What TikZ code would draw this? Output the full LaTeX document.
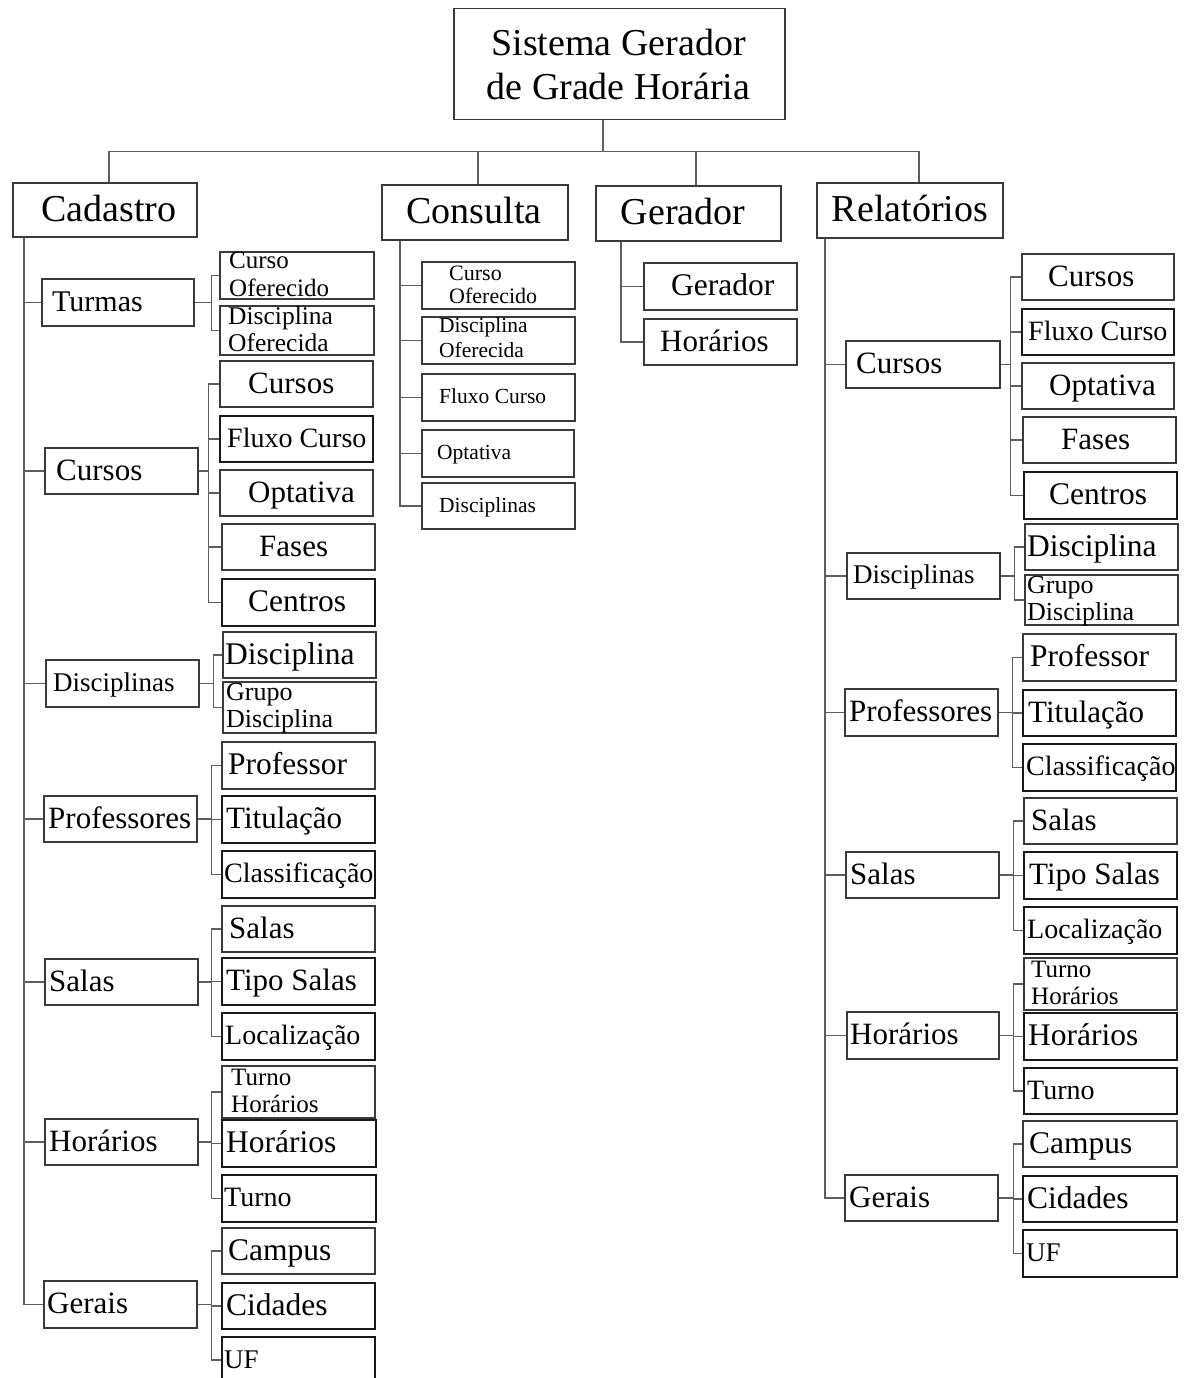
\documentclass[tikz,border=0pt]{standalone}
\usepackage{fontspec}
\setmainfont{Liberation Serif}
\definecolor{boxc}{HTML}{3A3A3A}
\definecolor{linec}{HTML}{5E5E5E}
\newcommand\twoL[2]{\begin{tabular}[t]{@{}l@{}}#1\\#2\end{tabular}}
\newcommand\twoC[2]{\begin{tabular}[t]{@{}c@{}}#1\\#2\end{tabular}}
% box: name, x, y, width, height, extra box style, text x-offset, text style, text
\newcommand\bx[9]{%
  \node[bx,#6,minimum width=#4pt,minimum height=#5pt] (#1) at (#2,#3) {};
  \node[#8] (#1-t) at ([xshift=#7pt]#1.west) {#9};}
% vertical spine below a parent, with a branch to every child
\newcommand\spine[3]{%
  \coordinate (#1-s) at ([xshift=#2pt]#1.south west);
  \foreach \c in {#3}{\draw[lk] (#1-s) |- (\c.west);}}
% bus on the right of a parent, with a branch to every child
\newcommand\grp[3]{%
  \coordinate (#1-b) at ([xshift=#2pt]#1.east);
  \draw[lk] (#1.east) -- (#1-b);
  \foreach \c in {#3}{\draw[lk] (#1-b) |- (\c.west);}}
\begin{document}
\begin{tikzpicture}[x=1pt,y=-1pt,
  bx/.style={draw=boxc, line width=1.5pt, inner sep=0pt, anchor=north west},
  dk/.style={draw=black!90, line width=1.9pt},
  lk/.style={draw=linec, line width=1.5pt},
  tx/.style={inner sep=0pt, anchor=base west, text=black,
             font=\fontsize{#1}{#1}\selectfont, yshift=-0.3*#1pt},
  tc/.style={tx=#1, anchor=base},
  tm/.style n args={3}{inner sep=0pt, anchor=base west, text=black,
             font=\fontsize{#1}{#2}\selectfont, yshift=#3pt}]
\fill[white] (0,0) rectangle (1183,1378);
\useasboundingbox (0,0) rectangle (1183,1378);

% root and first level
\bx{root}{453}{8}{331}{111}{}{165.5}{font=\fontsize{38}{44}\selectfont, inner sep=0pt, anchor=base, yshift=8.5pt}{\twoC{Sistema Gerador}{de Grade Horária}}
\bx{cad}{12}{182}{184}{54}{}{97}{tc=38}{Cadastro}
\bx{con}{381}{184}{186}{55}{}{93}{tc=38}{Consulta}
\bx{ger}{595}{185}{185}{55}{}{88}{tc=38}{Gerador}
\bx{rel}{816}{182}{186}{55}{}{94}{tc=38}{Relatórios}

% Cadastro
\bx{c-tur}{41}{278}{152}{47}{}{11}{tx=30}{Turmas}
\bx{c-cur}{44}{447}{153}{46}{}{12}{tx=31}{Cursos}
\bx{c-dis}{45}{659}{153}{47}{}{8}{tx=27}{Disciplinas}
\bx{c-pro}{43}{795}{153}{46}{}{5}{tx=31}{Professores}
\bx{c-sal}{44}{958}{153}{46}{}{5}{tx=31}{Salas}
\bx{c-hor}{44}{1118}{153}{46}{}{5}{tx=31}{Horários}
\bx{c-ger}{43}{1280}{153}{47}{}{4}{tx=31}{Gerais}

\bx{c-tur-1}{219}{251}{154}{47}{}{10}{tm={25}{28}{6.5}}{\twoL{Curso}{Oferecido}}
\bx{c-tur-2}{219}{305}{154}{49}{}{9}{tm={25.5}{27}{5.5}}{\twoL{Disciplina}{Oferecida}}

\bx{c-cur-1}{219}{360}{153}{46}{}{29}{tx=31}{Cursos}
\bx{c-cur-2}{219}{415}{153}{46}{dk}{8}{tx=28}{Fluxo Curso}
\bx{c-cur-3}{219}{469}{153}{46}{}{29}{tx=31}{Optativa}
\bx{c-cur-4}{221}{523}{153}{46}{}{38}{tx=31}{Fases}
\bx{c-cur-5}{221}{578}{153}{47}{dk}{27}{tx=31.5}{Centros}

\bx{c-dis-1}{222}{631}{153}{46}{}{3}{tx=31.5}{Disciplina}
\bx{c-dis-2}{222}{681}{153}{51}{}{4}{tm={26}{27}{6.5}}{\twoL{Grupo}{Disciplina}}

\bx{c-pro-1}{221}{741}{153}{47}{}{7}{tx=31.5}{Professor}
\bx{c-pro-2}{221}{795}{153}{47}{dk}{5}{tx=31}{Titulação}
\bx{c-pro-3}{221}{850}{153}{47}{dk}{3}{tx=28}{Classificação}

\bx{c-sal-1}{221}{905}{153}{46}{}{8}{tx=31}{Salas}
\bx{c-sal-2}{221}{957}{153}{47}{dk}{5}{tx=31}{Tipo Salas}
\bx{c-sal-3}{221}{1012}{153}{47}{dk}{4}{tx=28}{Localização}

\bx{c-hor-1}{221}{1065}{153}{52}{}{10}{tm={25}{27}{6}}{\twoL{Turno}{Horários}}
\bx{c-hor-2}{221}{1119}{154}{47}{dk}{5}{tx=31.5}{Horários}
\bx{c-hor-3}{221}{1174}{154}{47}{dk}{3}{tx=28}{Turno}

\bx{c-ger-1}{221}{1227}{153}{46}{}{7}{tx=31.5}{Campus}
\bx{c-ger-2}{221}{1282}{153}{46}{dk}{5}{tx=31.5}{Cidades}
\bx{c-ger-3}{221}{1336}{153}{46}{dk}{3}{tx=27}{UF}

% Consulta
\bx{k-1}{421}{261}{153}{47}{}{28}{tm={22}{23}{5}}{\twoL{Curso}{Oferecido}}
\bx{k-2}{421}{316}{153}{47}{}{18}{tm={21.5}{25}{7.5}}{\twoL{Disciplina}{Oferecida}}
\bx{k-3}{421}{373}{153}{47}{}{18}{tx=21.5}{Fluxo Curso}
\bx{k-4}{421}{429}{152}{47}{}{16}{tx=21.5}{Optativa}
\bx{k-5}{421}{482}{153}{46}{}{18}{tx=21.5}{Disciplinas}

% Gerador
\bx{g-1}{643}{262}{153}{47}{}{28}{tx=31.5}{Gerador}
\bx{g-2}{643}{318}{153}{46}{}{17}{tx=31}{Horários}

% Relatórios
\bx{r-cur}{845}{340}{154}{47}{}{11}{tx=31}{Cursos}
\bx{r-dis}{846}{552}{153}{46}{}{7}{tx=27}{Disciplinas}
\bx{r-pro}{844}{688}{153}{47}{}{5}{tx=31}{Professores}
\bx{r-sal}{845}{851}{153}{46}{}{5}{tx=31}{Salas}
\bx{r-hor}{846}{1011}{152}{47}{}{4}{tx=31}{Horários}
\bx{r-ger}{844}{1174}{153}{46}{}{5}{tx=31}{Gerais}

\bx{r-cur-1}{1021}{253}{152}{46}{}{27}{tx=31}{Cursos}
\bx{r-cur-2}{1021}{308}{152}{46}{dk}{7}{tx=28}{Fluxo Curso}
\bx{r-cur-3}{1021}{362}{152}{46}{}{28}{tx=31}{Optativa}
\bx{r-cur-4}{1022}{416}{153}{46}{}{39}{tx=31}{Fases}
\bx{r-cur-5}{1023}{471}{153}{47}{dk}{26}{tx=31.5}{Centros}

\bx{r-dis-1}{1024}{523}{153}{46}{}{3}{tx=31.5}{Disciplina}
\bx{r-dis-2}{1024}{574}{153}{50}{}{3}{tm={26}{27}{6}}{\twoL{Grupo}{Disciplina}}

\bx{r-pro-1}{1022}{633}{153}{47}{}{8}{tx=31.5}{Professor}
\bx{r-pro-2}{1022}{689}{153}{46}{dk}{6}{tx=31}{Titulação}
\bx{r-pro-3}{1022}{743}{153}{47}{dk}{4}{tx=28}{Classificação}

\bx{r-sal-1}{1023}{797}{153}{46}{}{8}{tx=31}{Salas}
\bx{r-sal-2}{1023}{851}{153}{47}{dk}{6}{tx=31}{Tipo Salas}
\bx{r-sal-3}{1023}{906}{153}{47}{dk}{4}{tx=28}{Localização}

\bx{r-hor-1}{1023}{957}{153}{52}{}{8}{tm={25}{27}{6}}{\twoL{Turno}{Horários}}
\bx{r-hor-2}{1023}{1012}{153}{47}{dk}{5}{tx=31.5}{Horários}
\bx{r-hor-3}{1023}{1067}{153}{46}{dk}{4}{tx=28}{Turno}

\bx{r-ger-1}{1022}{1120}{154}{46}{}{7}{tx=31.5}{Campus}
\bx{r-ger-2}{1022}{1175}{154}{46}{dk}{5}{tx=31.5}{Cidades}
\bx{r-ger-3}{1022}{1229}{154}{47}{dk}{4}{tx=27}{UF}

% connectors from the root
\coordinate (hub) at ([xshift=-16.5pt,yshift=-31pt]root.south);
\draw[lk] (root.south -| hub) -- (hub);
\draw[lk] (hub) -| ([xshift=4pt]cad.north);
\draw[lk] (hub) -| ([xshift=3pt]con.north);
\draw[lk] (hub) -| ([xshift=7.5pt]ger.north);
\draw[lk] (hub) -| ([xshift=9pt]rel.north);

% spines
\spine{cad}{12}{c-tur,c-cur,c-dis,c-pro,c-sal,c-hor,c-ger}
\spine{con}{19}{k-1,k-2,k-3,k-4,k-5}
\spine{ger}{26}{g-1,g-2}
\spine{rel}{9}{r-cur,r-dis,r-pro,r-sal,r-hor,r-ger}

% buses to the third level
\grp{c-tur}{17}{c-tur-1,c-tur-2}
\grp{c-cur}{10}{c-cur-1,c-cur-2,c-cur-3,c-cur-4,c-cur-5}
\grp{c-dis}{14}{c-dis-1,c-dis-2}
\grp{c-pro}{14}{c-pro-1,c-pro-2,c-pro-3}
\grp{c-sal}{13}{c-sal-1,c-sal-2,c-sal-3}
\grp{c-hor}{13}{c-hor-1,c-hor-2,c-hor-3}
\grp{c-ger}{14}{c-ger-1,c-ger-2,c-ger-3}

\grp{r-cur}{10}{r-cur-1,r-cur-2,r-cur-3,r-cur-4,r-cur-5}
\grp{r-dis}{14}{r-dis-1,r-dis-2}
\grp{r-pro}{14}{r-pro-1,r-pro-2,r-pro-3}
\grp{r-sal}{14}{r-sal-1,r-sal-2,r-sal-3}
\grp{r-hor}{14}{r-hor-1,r-hor-2,r-hor-3}
\grp{r-ger}{15}{r-ger-1,r-ger-2,r-ger-3}
\end{tikzpicture}
\end{document}
